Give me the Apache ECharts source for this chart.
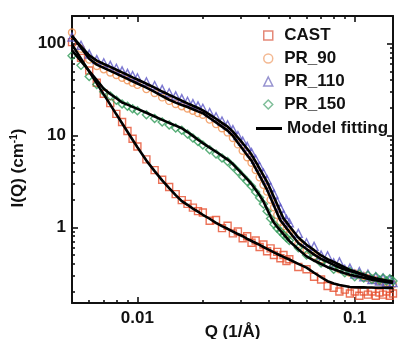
<!DOCTYPE html>
<html><head><meta charset="utf-8">
<script src="https://cdn.jsdelivr.net/npm/echarts@6/dist/echarts.min.js"></script>
<style>html,body{margin:0;padding:0;background:#fff}#c{width:398px;height:339px}</style>
</head><body><div id="c"></div>
<script>
// Scattering vector Q (1/Å)
const q = [0.005,0.0055,0.006,0.0065,0.007,0.0075,0.008,0.0085,0.009,0.0095,
  0.010,0.011,0.012,0.013,0.014,0.015,0.016,0.017,0.018,0.019,
  0.020,0.0215,0.023,0.0245,0.026,0.0275,0.029,0.0305,0.032,0.0335,
  0.035,0.0365,0.038,0.0395,0.041,0.0425,0.044,0.0455,0.047,0.0485,
  0.050,0.055,0.060,0.065,0.070,0.075,0.080,0.085,0.090,0.095,
  0.100,0.105,0.110,0.115,0.120,0.125,0.130,0.135,0.140,0.145,0.150];

// Measured I(Q) (cm^-1)
const castData = [104,70,51,37.5,28.5,22.5,17.2,14.0,11.2,9.2,
  7.6,5.5,4.2,3.3,2.75,2.3,1.98,1.8,1.64,1.5,
  1.45,1.18,1.2,0.98,1.04,0.86,0.9,0.76,0.8,0.68,
  0.72,0.61,0.65,0.55,0.59,0.5,0.54,0.46,0.5,0.43,
  0.45,0.37,0.35,0.29,0.27,0.23,0.22,0.2,0.21,0.19,
  0.2,0.18,0.2,0.185,0.2,0.18,0.195,0.185,0.2,0.18,0.19];
const pr90Data = [132,88,67,57,52.5,48.5,45.5,42.5,40,37.6,
  35.6,32,29,26,23.8,22,20.8,19.7,18.6,17.6,
  16.8,14.9,13.3,12,10.8,9.4,8.0,6.8,5.8,5.05,
  4.2,3.5,2.9,2.45,2.0,1.65,1.36,1.15,1.03,0.95,
  0.85,0.66,0.57,0.49,0.45,0.4,0.38,0.35,0.34,0.32,
  0.315,0.3,0.295,0.28,0.275,0.265,0.26,0.255,0.25,0.245,0.24];
const pr110Data = [118,96,77,67,62,58,54,50.5,47.5,45,
  42.5,38.5,35,31.8,29.2,27,25.2,23.6,22.2,21,
  19.8,17.8,16,14.4,13.1,11.6,10,8.7,7.6,6.5,
  5.5,4.6,3.9,3.3,2.75,2.3,1.9,1.62,1.38,1.22,
  1.12,0.86,0.68,0.62,0.5,0.49,0.41,0.42,0.35,0.36,
  0.31,0.33,0.29,0.31,0.27,0.29,0.26,0.28,0.25,0.27,0.25];
const pr150Data = [74,58,44,36,30,27,24.2,22,20.8,19.6,
  18.6,16.8,15.3,14,13,12.1,11.4,10.4,9.4,8.6,
  7.9,7.0,6.3,5.7,5.2,4.6,4.05,3.55,3.15,2.8,
  2.42,2.1,1.8,1.5,1.25,1.08,0.98,0.9,0.83,0.77,
  0.72,0.6,0.5,0.47,0.41,0.4,0.35,0.36,0.32,0.33,
  0.29,0.31,0.28,0.3,0.27,0.29,0.265,0.28,0.26,0.275,0.26];

// Model fitting curves
const castFit = [98,68.7,49.6,36.9,28.0,21.7,17.0,13.6,11.0,9.0,
  7.44,5.33,4.09,3.24,2.67,2.24,1.93,1.76,1.60,1.48,
  1.37,1.24,1.12,1.03,0.964,0.90,0.845,0.80,0.75,0.71,
  0.675,0.643,0.611,0.582,0.557,0.533,0.513,0.494,0.476,0.46,
  0.446,0.40,0.364,0.32,0.286,0.259,0.245,0.236,0.23,0.224,
  0.223,0.222,0.222,0.221,0.221,0.22,0.22,0.22,0.219,0.219,0.219];
const pr90Fit = [122.7,90.4,68.5,59.1,54.4,50.5,47.1,44.0,41.3,38.9,
  36.8,33.2,29.9,26.9,24.5,22.8,21.5,20.4,19.3,18.3,
  17.5,15.5,13.9,12.5,11.3,9.9,8.35,7.13,6.1,5.32,
  4.38,3.65,3.05,2.56,2.10,1.72,1.42,1.19,1.08,0.98,
  0.895,0.676,0.581,0.505,0.453,0.42,0.39,0.365,0.348,0.335,
  0.324,0.312,0.302,0.292,0.284,0.277,0.271,0.266,0.262,0.258,0.254];
const pr110Fit = [119.7,93.5,74.6,65.3,60.1,55.8,52.0,48.6,45.7,43.0,
  40.7,36.6,33.2,30.1,27.7,25.7,23.9,22.4,21.1,19.95,
  18.8,16.9,15.2,13.7,12.5,11.0,9.5,8.24,7.18,6.2,
  5.18,4.35,3.68,3.13,2.58,2.13,1.77,1.48,1.25,1.14,
  1.035,0.774,0.647,0.564,0.494,0.451,0.419,0.391,0.366,0.344,
  0.33,0.317,0.305,0.294,0.284,0.277,0.272,0.267,0.262,0.258,0.254];
const pr150Fit = [84.3,64.4,50.4,40.0,32.3,28.3,25.4,22.9,21.7,20.5,
  19.5,17.7,16.1,14.8,13.7,12.8,12.0,10.9,9.9,9.0,
  8.26,7.38,6.65,6.01,5.47,4.89,4.28,3.78,3.35,2.96,
  2.56,2.23,1.91,1.58,1.31,1.12,1.01,0.92,0.843,0.774,
  0.711,0.578,0.483,0.435,0.399,0.368,0.349,0.333,0.317,0.304,
  0.296,0.289,0.282,0.275,0.269,0.265,0.261,0.258,0.254,0.251,0.248];

// Tick values
const xMajorTicks = [0.01, 0.1];
const xMinorTicks = [0.006,0.007,0.008,0.009,0.02,0.03,0.04,0.05,0.06,0.07,0.08,0.09];
const yMajorTicks = [1, 10, 100];
const yMinorTicks = [0.2,0.3,0.4,0.5,0.6,0.7,0.8,0.9,2,3,4,5,6,7,8,9,20,30,40,50,60,70,80,90];

const seriesNames = ['CAST','PR_90','PR_110','PR_150'];
const colors = ['#e64f2e','#f0904f','#5d58c6','#2f9a57'];
const legendColors = ['#dd6a55','#f0a878','#7d78c4','#5fae80'];

const FONT = 'Arial, "Liberation Sans", Helvetica, sans-serif';
const X_MIN = 0.005, X_MAX = 0.15, Y_MIN = 0.15, Y_MAX = 200;

const pair = arr => q.map((x, i) => [x, arr[i]]);
const dataSets = [castData, pr90Data, pr110Data, pr150Data];
const fitSets = [castFit, pr90Fit, pr110Fit, pr150Fit];
const symbols = ['rect','circle','triangle','diamond'];
const symSizes = [7, 7, 8, 8];
const legendIcons = ['path://M0,0L10,0L10,10L0,10Z','circle','path://M5,0L10,10L0,10Z','path://M5,0L10,5L5,10L0,5Z'];

const axisColor = '#111';
function xAx(pos, ticks, len, withLabel, showLine) {
  return {
    type: 'log', position: pos, min: X_MIN, max: X_MAX, gridIndex: 0,
    axisLine: {show: showLine, onZero: false, lineStyle: {color: axisColor, width: 2}},
    axisTick: {show: true, inside: true, length: len, customValues: ticks, lineStyle: {color: axisColor, width: 1.6}},
    axisLabel: withLabel ? {show: true, customValues: xMajorTicks, margin: 7, color: '#111', fontSize: 17, fontWeight: 'bold', fontFamily: FONT} : {show: false},
    splitLine: {show: false}, minorTick: {show: false}, minorSplitLine: {show: false}
  };
}
function yAx(pos, ticks, len, withLabel, showLine) {
  return {
    type: 'log', position: pos, min: Y_MIN, max: Y_MAX, gridIndex: 0,
    axisLine: {show: showLine, onZero: false, lineStyle: {color: axisColor, width: 2}},
    axisTick: {show: true, inside: true, length: len, customValues: ticks, lineStyle: {color: axisColor, width: 1.6}},
    axisLabel: withLabel ? {show: true, customValues: yMajorTicks, margin: 6, color: '#111', fontSize: 17, fontWeight: 'bold', fontFamily: FONT} : {show: false},
    splitLine: {show: false}, minorTick: {show: false}, minorSplitLine: {show: false}
  };
}

const xAxes = [
  Object.assign(xAx('bottom', xMajorTicks, 6, true, true), {
    name: 'Q (1/Å)', nameLocation: 'middle', nameGap: 21, nameMoveOverlap: false,
    nameTextStyle: {fontSize: 17, fontWeight: 'bold', color: '#111', fontFamily: FONT}
  }),
  xAx('bottom', xMinorTicks, 3, false, false),
  xAx('top', xMajorTicks, 6, false, true),
  xAx('top', xMinorTicks, 3, false, false)
];
const yAxes = [
  Object.assign(yAx('left', yMajorTicks, 6, true, true), {
    name: '{a|I(Q) (cm}{s|-1}{a|)}', nameLocation: 'middle', nameGap: 42,
    nameTextStyle: {color: '#111', fontFamily: FONT, padding: [0, 17, 0, 0], rich: {
      a: {fontSize: 17, fontWeight: 'bold', color: '#111', fontFamily: FONT},
      s: {fontSize: 10, fontWeight: 'bold', color: '#111', fontFamily: FONT, verticalAlign: 'top'}
    }}
  }),
  yAx('left', yMinorTicks, 3, false, false),
  yAx('right', yMajorTicks, 6, false, true),
  yAx('right', yMinorTicks, 3, false, false)
];

const series = [];
seriesNames.forEach((name, k) => {
  series.push({
    name: name, type: 'scatter', xAxisIndex: 0, yAxisIndex: 0,
    data: pair(dataSets[k]), symbol: symbols[k], symbolSize: symSizes[k],
    itemStyle: {color: 'rgba(255,255,255,0)', borderColor: colors[k], borderWidth: 1.4},
    z: 2 + k, silent: true
  });
});
fitSets.forEach(arr => {
  series.push({
    name: 'Model fitting', type: 'line', xAxisIndex: 0, yAxisIndex: 0,
    data: pair(arr), symbol: 'none', showSymbol: false,
    lineStyle: {color: '#000', width: 2.6}, itemStyle: {color: '#000'},
    z: 10, silent: true
  });
});

const chart = echarts.init(document.getElementById('c'), null, {renderer: 'canvas'});
chart.setOption({
  animation: false,
  backgroundColor: '#ffffff',
  grid: {left: 72, right: 5, top: 16, bottom: 36, containLabel: false, outerBoundsMode: 'none'},
  legend: [
    {
      data: seriesNames.map((n, k) => ({name: n, icon: legendIcons[k],
        itemStyle: {color: 'rgba(255,255,255,0)', borderColor: legendColors[k], borderWidth: 1.5}})),
      orient: 'vertical', left: 263, top: 27, padding: 0, itemGap: 6,
      itemWidth: 22, itemHeight: 9, symbolKeepAspect: true,
      textStyle: {fontSize: 17, fontWeight: 'bold', color: '#111', fontFamily: FONT}
    },
    {
      data: [{name: 'Model fitting', icon: 'path://M0,0L26,0L26,3L0,3Z', itemStyle: {color: '#000', borderWidth: 0}}],
      orient: 'vertical', left: 256, top: 120, padding: 0,
      itemWidth: 26, itemHeight: 9, symbolKeepAspect: true,
      textStyle: {fontSize: 17, fontWeight: 'bold', color: '#111', fontFamily: FONT}
    }
  ],
  xAxis: xAxes,
  yAxis: yAxes,
  series: series
});
</script>
</body></html>
